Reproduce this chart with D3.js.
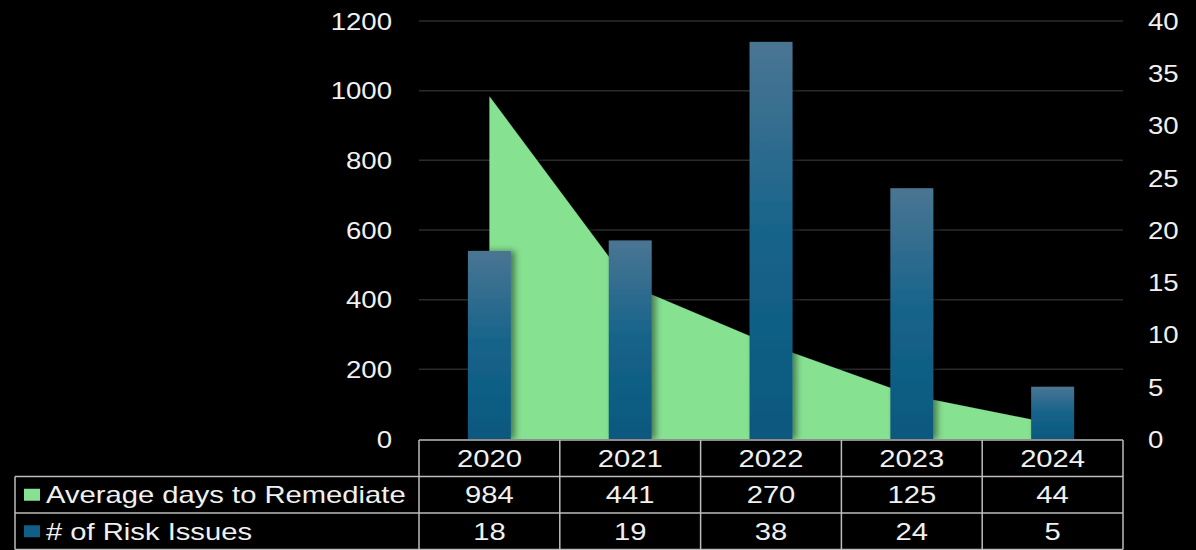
<!DOCTYPE html>
<html>
<head>
<meta charset="utf-8">
<script src="https://cdn.jsdelivr.net/npm/d3@7"></script>
<style>
  body { margin: 0; background: #000; }
  svg { display: block; font-family: "Liberation Sans", Arial, sans-serif; }
</style>
</head>
<body>
<script>
var years = ["2020", "2021", "2022", "2023", "2024"];
var avgDays = [984, 441, 270, 125, 44];
var riskIssues = [18, 19, 38, 24, 5];
var leftTicks = [0, 200, 400, 600, 800, 1000, 1200];
var rightTicks = [0, 5, 10, 15, 20, 25, 30, 35, 40];
var seriesNames = ["Average days to Remediate", "# of Risk Issues"];

var W = 1196, H = 550;
var plot = {left: 419, right: 1123, top: 21, bottom: 439};
var sxAxis = 1.2, sxTable = 1.27; // the text in the original looks stretched wide

var svg = d3.select("body").append("svg")
  .attr("width", W).attr("height", H)
  .style("background", "#000");

var defs = svg.append("defs");
var grad = defs.append("linearGradient").attr("id", "barGrad")
  .attr("x1", 0).attr("y1", 0).attr("x2", 0).attr("y2", 1);
grad.append("stop").attr("offset", "0%").attr("stop-color", "#4a7593");
grad.append("stop").attr("offset", "50%").attr("stop-color", "#15638a");
grad.append("stop").attr("offset", "100%").attr("stop-color", "#0a587e");

var shadow = defs.append("filter").attr("id", "shadow")
  .attr("x", "-20%").attr("y", "-5%").attr("width", "160%").attr("height", "110%");
shadow.append("feDropShadow").attr("dx", 4).attr("dy", 0)
  .attr("stdDeviation", 3).attr("flood-color", "#000").attr("flood-opacity", 0.45);

var x = d3.scaleBand().domain(years).range([plot.left, plot.right]).padding(0);
var yL = d3.scaleLinear().domain([0, 1200]).range([plot.bottom, plot.top]);
var yR = d3.scaleLinear().domain([0, 40]).range([plot.bottom, plot.top]);

// gridlines
svg.append("g").selectAll("line")
  .data(leftTicks.slice(1))
  .enter().append("line")
  .attr("x1", plot.left).attr("x2", plot.right)
  .attr("y1", function(d) { return yL(d); })
  .attr("y2", function(d) { return yL(d); })
  .attr("stroke", "#2b2b2b").attr("stroke-width", 1.5);

// left axis
var leftAxis = d3.axisLeft(yL).tickValues(leftTicks).tickFormat(d3.format("d")).tickSize(0);
var gl = svg.append("g").attr("transform", "translate(" + plot.left + ",0)").call(leftAxis);
gl.select(".domain").remove();
gl.selectAll("text").attr("fill", "#f0f0f0").style("font-size", "23px")
  .attr("x", -27 / sxAxis).attr("dy", "0.36em")
  .attr("transform", "scale(" + sxAxis + ",1)");

// right axis
var rightAxis = d3.axisRight(yR).tickValues(rightTicks).tickSize(0);
var gr = svg.append("g").attr("transform", "translate(" + plot.right + ",0)").call(rightAxis);
gr.select(".domain").remove();
gr.selectAll("text").attr("fill", "#f0f0f0").style("font-size", "23px")
  .attr("x", 25 / sxAxis).attr("dy", "0.36em")
  .attr("transform", "scale(" + sxAxis + ",1)");

// area
var areaData = years.map(function(y, i) { return {year: y, v: avgDays[i]}; });
var area = d3.area()
  .x(function(d) { return x(d.year) + x.bandwidth() / 2; })
  .y0(yL(0))
  .y1(function(d) { return yL(d.v); });
svg.append("path").datum(areaData)
  .attr("d", area)
  .attr("fill", "#86e191")
  .attr("filter", "url(#shadow)");

// bars
var barW = x.bandwidth() * 0.305;
svg.append("g").selectAll("rect")
  .data(riskIssues)
  .enter().append("rect")
  .attr("x", function(d, i) { return x(years[i]) + x.bandwidth() / 2 - barW / 2; })
  .attr("y", function(d) { return yR(d); })
  .attr("width", barW)
  .attr("height", function(d) { return yR(0) - yR(d); })
  .attr("fill", "url(#barGrad)")
  .attr("filter", "url(#shadow)");

// data table
var rowTop = 440, rowH = 36.5;
var tableLeft = 15;
var lineColor = "#bdbdbd";
var tbl = svg.append("g");

function hline(x1, x2, y) {
  tbl.append("line").attr("x1", x1).attr("x2", x2).attr("y1", y).attr("y2", y)
    .attr("stroke", lineColor).attr("stroke-width", 1.5);
}
function vline(xx, y1, y2) {
  tbl.append("line").attr("x1", xx).attr("x2", xx).attr("y1", y1).attr("y2", y2)
    .attr("stroke", lineColor).attr("stroke-width", 1.5);
}
function cellText(tx, ty, str, anchor) {
  tbl.append("text")
    .attr("transform", "translate(" + tx + "," + ty + ") scale(" + sxTable + ",1)")
    .attr("dy", "0.36em")
    .attr("text-anchor", anchor)
    .attr("fill", "#f0f0f0")
    .style("font-size", "23px")
    .text(str);
}

hline(plot.left, plot.right, rowTop);
hline(tableLeft, plot.right, rowTop + rowH);
hline(tableLeft, plot.right, rowTop + 2 * rowH);
hline(tableLeft, plot.right, rowTop + 3 * rowH);
vline(tableLeft, rowTop + rowH, rowTop + 3 * rowH);
years.forEach(function(y) { vline(x(y), rowTop, rowTop + 3 * rowH); });
vline(plot.right, rowTop, rowTop + 3 * rowH);

var rows = [years, avgDays, riskIssues];
rows.forEach(function(row, r) {
  row.forEach(function(d, i) {
    cellText(x(years[i]) + x.bandwidth() / 2, rowTop + r * rowH + rowH / 2, d, "middle");
  });
});

var legendColors = ["#86e191", "#0f5f86"];
seriesNames.forEach(function(name, i) {
  var cy = rowTop + (i + 1) * rowH + rowH / 2;
  tbl.append("rect").attr("x", 24).attr("y", cy - 6).attr("width", 16).attr("height", 12)
    .attr("fill", legendColors[i]);
  cellText(46, cy, name, "start");
});
</script>
</body>
</html>
